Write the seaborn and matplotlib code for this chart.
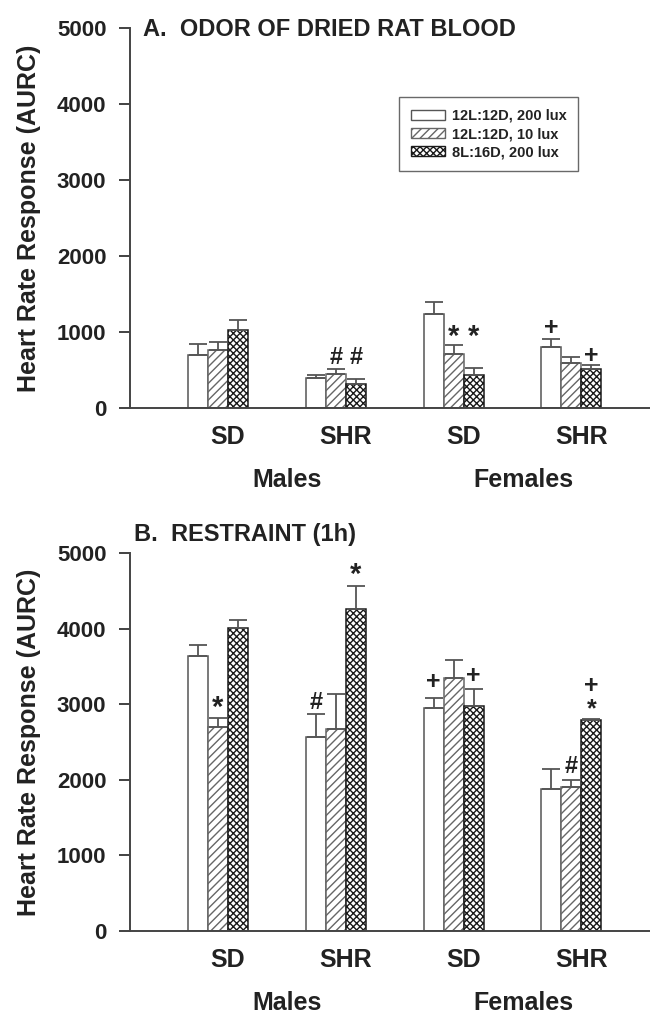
import numpy as np
import pandas as pd
import matplotlib
matplotlib.use('Agg')
import matplotlib.pyplot as plt
from matplotlib.patches import Patch
import seaborn as sns

# groups on the x axis
groups = ['Males SD', 'Males SHR', 'Females SD', 'Females SHR']
strain_labels = ['SD', 'SHR', 'SD', 'SHR']
sex_labels = ['Males', 'Females']
conditions = ['12L:12D, 200 lux', '12L:12D, 10 lux', '8L:16D, 200 lux']

# A. odor of dried rat blood (mean, SEM) per group x condition
odor_mean = [[693, 759, 1022], [390, 452, 320], [1237, 711, 434], [807, 596, 513]]
odor_sem = [[153, 110, 130], [48, 60, 57], [154, 114, 96], [97, 71, 53]]
# (symbol, group, condition, height)
odor_marks = [('#', 1, 1, 660), ('#', 1, 2, 660),
              ('*', 2, 1, 930), ('*', 2, 2, 930),
              ('+', 3, 0, 1050), ('+', 3, 2, 680)]

# B. restraint (1h)
restraint_mean = [[3637, 2701, 4011], [2560, 2670, 4262], [2947, 3343, 2978], [1876, 1902, 2789]]
restraint_sem = [[141, 110, 101], [308, 462, 307], [141, 242, 220], [266, 98, 10]]
restraint_marks = [('*', 0, 1, 2950), ('#', 1, 0, 3020), ('*', 1, 2, 4710),
                   ('+', 2, 0, 3300), ('+', 2, 2, 3370),
                   ('#', 3, 1, 2180), ('+\n*', 3, 2, 3090)]

hatches = ['', '////', 'xxxxx']
hatch_edge = ['#555555', '#666666', '#1a1a1a']
mark_size = {'*': 21, '#': 17, '+': 18, '+\n*': 18}

sns.set_style('ticks')
plt.rcParams['font.family'] = ['Liberation Sans', 'DejaVu Sans']
plt.rcParams['font.weight'] = 'bold'
plt.rcParams['hatch.linewidth'] = 1.0

fig = plt.figure(figsize=(6.5, 10.15), dpi=100)
ax_a = fig.add_axes([0.2, 1 - 408 / 1015, 0.8, 380 / 1015])
ax_b = fig.add_axes([0.2, 1 - 931 / 1015, 0.8, 378 / 1015])


def draw_panel(ax, means, sems, marks):
    df = pd.DataFrame({
        'group': np.repeat(groups, len(conditions)),
        'cond': conditions * len(groups),
        'value': np.ravel(means),
    })
    sns.barplot(data=df, x='group', y='value', hue='cond', order=groups,
                hue_order=conditions, palette=['white'] * 3, width=0.51,
                errorbar=None, legend=False, ax=ax, saturation=1)
    bars = list(ax.containers)
    for h, cont in enumerate(bars):
        for g, bar in enumerate(cont):
            bar.set_facecolor('white')
            bar.set_edgecolor(hatch_edge[h])
            bar.set_hatch(hatches[h])
            bar.set_linewidth(1.1)
            xc = bar.get_x() + bar.get_width() / 2
            ax.errorbar(xc, bar.get_height(), yerr=[[0], [sems[g][h]]],
                        fmt='none', ecolor='#555555', elinewidth=1.3,
                        capsize=6.5, capthick=1.3, zorder=1)
    for sym, g, h, y in marks:
        bar = bars[h][g]
        ax.text(bar.get_x() + bar.get_width() / 2, y, sym, ha='center',
                va='center', fontsize=mark_size[sym], linespacing=0.95,
                fontweight='bold', color='#222222')

    ax.set_xlim(-0.747, 3.667)
    ax.set_ylim(0, 5000)
    ax.set_yticks(range(0, 5001, 1000))
    # category labels sit a little right of the bar groups in the original
    ax.set_xticks(np.arange(len(groups)) + 0.085)
    ax.set_xticklabels(strain_labels)
    ax.set_xlabel('')
    ax.set_ylabel('Heart Rate Response (AURC)', fontsize=18,
                  fontweight='bold', color='#222222')
    ax.yaxis.set_label_coords(-0.172, 0.5)
    ax.tick_params(axis='y', direction='out', length=8, width=1.3, pad=9,
                   labelsize=16, colors='#333333', labelcolor='#222222')
    ax.tick_params(axis='x', length=0, pad=12, labelsize=18,
                   labelcolor='#222222')
    for lab in ax.get_xticklabels() + ax.get_yticklabels():
        lab.set_fontweight('bold')
    sns.despine(ax=ax, right=True, top=True)
    for side in ['left', 'bottom']:
        ax.spines[side].set_color('#444444')
        ax.spines[side].set_linewidth(1.4)
    for i, sex in enumerate(sex_labels):
        ax.text(0.59 + 2 * i, -0.19, sex, transform=ax.get_xaxis_transform(),
                ha='center', va='center', fontsize=18, fontweight='bold',
                color='#222222')


draw_panel(ax_a, odor_mean, odor_sem, odor_marks)
draw_panel(ax_b, restraint_mean, restraint_sem, restraint_marks)

fig.text(143 / 650, 1 - 29 / 1015, 'A.  ODOR OF DRIED RAT BLOOD', fontsize=17,
         fontweight='bold', va='center', ha='left', color='#222222')
fig.text(134 / 650, 1 - 534 / 1015, 'B.  RESTRAINT (1h)', fontsize=17,
         fontweight='bold', va='center', ha='left', color='#222222')

handles = [Patch(facecolor='white', edgecolor=hatch_edge[i], hatch=hatches[i],
                 linewidth=1.0, label=conditions[i]) for i in range(3)]
leg = ax_a.legend(handles=handles, loc='upper left',
                  bbox_to_anchor=((399 - 130) / 520, (408 - 97) / 380),
                  frameon=True, fancybox=False, handlelength=2.35,
                  handleheight=0.67, handletextpad=0.47, labelspacing=0.3,
                  borderpad=0.8, borderaxespad=0,
                  prop={'weight': 'bold', 'size': 10.5})
leg.get_frame().set_edgecolor('#444444')
leg.get_frame().set_linewidth(1.0)
for txt in leg.get_texts():
    txt.set_color('#222222')

fig.savefig('out.png', dpi=100)
